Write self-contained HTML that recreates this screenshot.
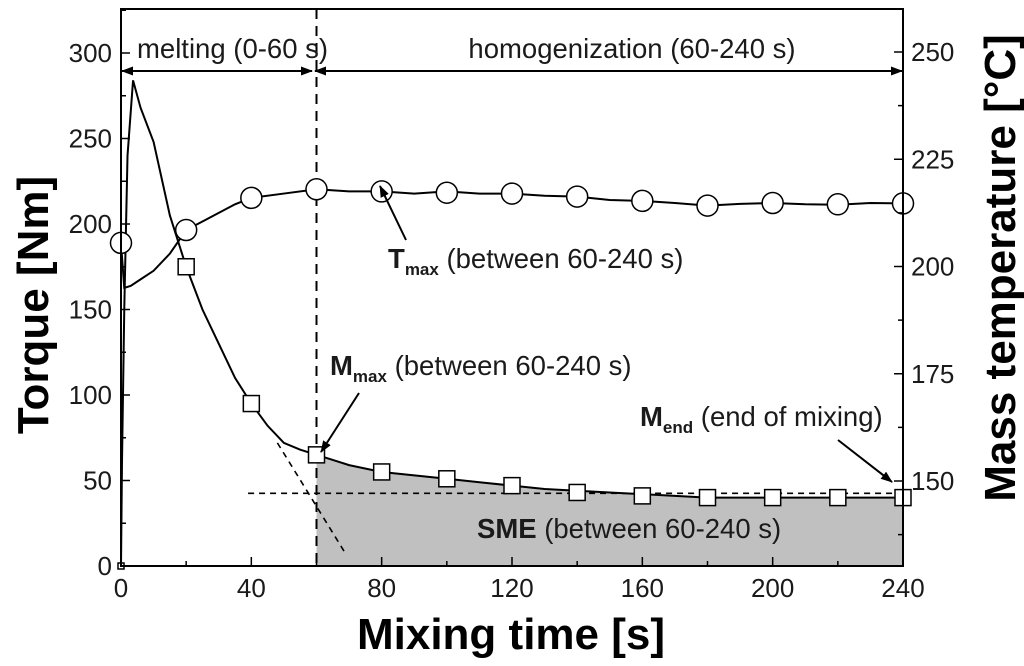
<!DOCTYPE html>
<html><head><meta charset="utf-8"><style>
html,body{margin:0;padding:0;background:#fff;}
svg{display:block;font-family:"Liberation Sans",Arial,sans-serif;}
</style></head><body>
<svg id="chart" width="1024" height="666" viewBox="0 0 1024 666">
<defs>
<marker id="ah" markerWidth="12" markerHeight="9" refX="11" refY="4.5" orient="auto-start-reverse" markerUnits="userSpaceOnUse"><path d="M0,0 L12,4.5 L0,9 Z" fill="#000"/></marker>
</defs>
<g id="shade"></g>
<g id="guides"></g>
<g id="series"></g>
<g id="axes"></g>
<g id="annot" font-size="27.5" fill="#1a1a1a">
 <text x="137" y="58">melting (0-60 s)</text>
 <text x="632" y="58" text-anchor="middle">homogenization (60-240 s)</text>
 <line x1="122" y1="71" x2="312" y2="71" stroke="#000" stroke-width="2" marker-end="url(#ah)" marker-start="url(#ah)"/>
 <line x1="315" y1="71" x2="902" y2="71" stroke="#000" stroke-width="2" marker-end="url(#ah)" marker-start="url(#ah)"/>
 <text x="388" y="268"><tspan font-weight="bold">T</tspan><tspan font-size="17" font-weight="bold" dy="7">max</tspan><tspan dy="-7"> (between 60-240 s)</tspan></text>
 <line x1="406" y1="240" x2="380" y2="186" stroke="#000" stroke-width="2" marker-end="url(#ah)"/>
 <text x="330" y="375"><tspan font-weight="bold">M</tspan><tspan font-size="17" font-weight="bold" dy="7">max</tspan><tspan dy="-7"> (between 60-240 s)</tspan></text>
 <line x1="359" y1="393" x2="321" y2="452" stroke="#000" stroke-width="2" marker-end="url(#ah)"/>
 <text x="640" y="426"><tspan font-weight="bold">M</tspan><tspan font-size="17" font-weight="bold" dy="7">end</tspan><tspan dy="-7"> (end of mixing)</tspan></text>
 <line x1="838" y1="440" x2="892" y2="482" stroke="#000" stroke-width="2" marker-end="url(#ah)"/>
 <text x="477" y="538"><tspan font-weight="bold">SME</tspan> (between 60-240 s)</text>
</g>
<text x="511" y="649" text-anchor="middle" font-size="44" font-weight="bold">Mixing time [s]</text>
<text transform="translate(48,305) rotate(-90)" text-anchor="middle" font-size="44" font-weight="bold">Torque [Nm]</text>
<text transform="translate(1015,268) rotate(-90)" text-anchor="middle" font-size="44" font-weight="bold">Mass temperature [°C]</text>
</svg>
<script>
var torqueTimes = [0,0.3,1,2,3.7,6,10,15,20,25,30,35,40,45,50,55,60,65,70,80,90,100,110,120,130,140,150,160,170,180,190,200,210,220,230,240];
var torqueValues = [0,60,150,240,284,268,248,205,175,150,130,110,95,82,72,68,65,62,59,55,53,51,49,47,45,44,43,42,41,40,40,40,40,40,40,40];
var tempTimes = [0,1,3,6,10,15,20,25,30,35,40,50,60,70,80,90,100,110,120,130,140,150,160,170,180,190,200,210,220,230,240];
var tempValues = [205.5,195,195.5,197,199,203,208.5,210.5,212.5,214.5,216,217,218,217.5,217.5,217,217.5,217,217,216.5,216.3,215.5,215.3,214.8,214.2,214.6,214.8,214.5,214.4,214.8,214.7];
var markerTimes = [0,20,40,60,80,100,120,140,160,180,200,220,240];
var torqueMarkers = [0,175,95,65,55,51,47,43,41,40,40,40,40];
var tempMarkers = [205.5,208.5,216,218,217.5,217.2,217,216.3,215.3,214.2,214.8,214.5,214.7];
var xTicks = [0,40,80,120,160,200,240];
var leftTicks = [0,50,100,150,200,250,300];
var rightTicks = [150,175,200,225,250];
var plateau = 42.5;

var L=121,R=903,T=9,B=566;
function xs(t){return L+(t/240)*(R-L);}
function yl(v){return B-v*1.71;}
function yr(v){return 481-(v-150)*4.29;}
var NS="http://www.w3.org/2000/svg";
function mk(tag,parent,attrs){var e=document.createElementNS(NS,tag);for(var k in attrs)e.setAttribute(k,attrs[k]);parent.appendChild(e);return e;}
var axes=document.getElementById('axes'),series=document.getElementById('series'),shade=document.getElementById('shade'),guides=document.getElementById('guides');

var sp='M'+xs(60)+','+B;
torqueTimes.forEach(function(t,i){if(t>=60)sp+=' L'+xs(t)+','+yl(torqueValues[i]);});
sp+=' L'+xs(240)+','+B+' Z';
var sh=mk('path',shade,{d:sp,fill:'#c0c0c0'});



var vl=mk('line',guides,{x1:xs(60),y1:T,x2:xs(60),y2:B,stroke:'#000','stroke-width':2,'stroke-dasharray':'10,7'});


var hl=mk('line',guides,{x1:xs(39),y1:yl(plateau),x2:R,y2:yl(plateau),stroke:'#000','stroke-width':1.6,'stroke-dasharray':'6,5'});


var tl=mk('line',guides,{x1:xs(48),y1:yl(72),x2:xs(69),y2:yl(7),stroke:'#000','stroke-width':1.6,'stroke-dasharray':'6,5'});



var tq=mk('polyline',series,{points:torqueTimes.map(function(t,i){return xs(t)+','+yl(torqueValues[i]);}).join(' '),fill:'none',stroke:'#000','stroke-width':2});


var tp=mk('polyline',series,{points:tempTimes.map(function(t,i){return xs(t)+','+yr(tempValues[i]);}).join(' '),fill:'none',stroke:'#000','stroke-width':2});


markerTimes.forEach(function(t,i){
  var s=(i===0)?6:16;
  var sq=mk('rect',series,{x:xs(t)-s/2,y:yl(torqueMarkers[i])-s/2,width:s,height:s,fill:'#fff',stroke:'#000','stroke-width':1.5});
  
  
  var c=mk('circle',series,{cx:xs(t),cy:yr(tempMarkers[i]),r:10.5,fill:'#fff',stroke:'#000','stroke-width':1.5});
  
  
});

var fr=mk('rect',axes,{x:L,y:T,width:R-L,height:B-T,fill:'none',stroke:'#000','stroke-width':2});


for(var t=0;t<=240;t+=20){var big=t%40===0;mk('line',axes,{x1:xs(t),y1:B,x2:xs(t),y2:B-(big?9:5),stroke:'#000','stroke-width':1.5});}
xTicks.forEach(function(t){var e=mk('text',axes,{x:xs(t),y:597,'text-anchor':'middle','font-size':26,fill:'#1a1a1a'});e.textContent=t;
  
  });
for(var v=0;v<=325;v+=25){var bg=v%50===0;mk('line',axes,{x1:L,y1:yl(v),x2:L+(bg?9:5),y2:yl(v),stroke:'#000','stroke-width':1.5});}
leftTicks.forEach(function(v){var e=mk('text',axes,{x:112,y:yl(v)+9,'text-anchor':'end','font-size':26,fill:'#1a1a1a'});e.textContent=v;
  
  });
for(var w=137.5;w<=262.5;w+=12.5){if(yr(w)<T||yr(w)>B)continue;var b2=w%25===0;mk('line',axes,{x1:R,y1:yr(w),x2:R-(b2?9:5),y2:yr(w),stroke:'#000','stroke-width':1.5});}
rightTicks.forEach(function(v){var e=mk('text',axes,{x:911,y:yr(v)+9,'font-size':26,fill:'#1a1a1a'});e.textContent=v;
  
  });
</script>
</body></html>
